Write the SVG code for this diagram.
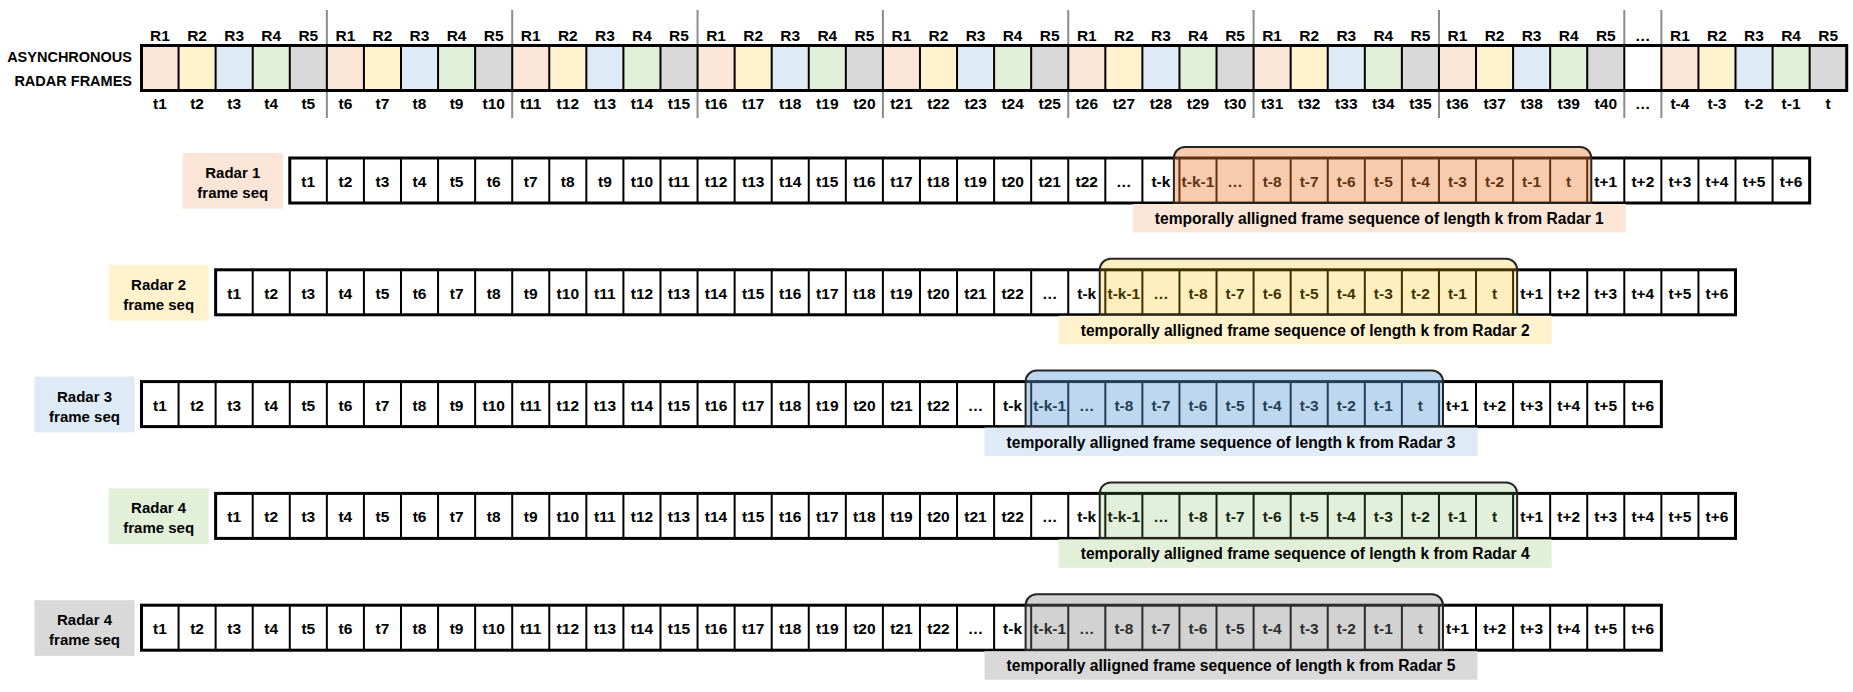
<svg xmlns="http://www.w3.org/2000/svg" xmlns:xlink="http://www.w3.org/1999/xlink" width="1853" height="692" viewBox="0 0 1853 692">
<style>
text{font-family:"Liberation Sans",Arial,sans-serif;font-weight:bold;fill:#000;text-anchor:middle}
.t{font-size:15.5px}
.lbl{font-size:15px}
.cap{font-size:15.6px}
.head{font-size:14.5px;text-anchor:end}
.box{fill:#fff;stroke:#000;stroke-width:3}
.div{fill:none;stroke:#000;stroke-width:2}
.sep{stroke:#8C8C8C;stroke-width:2}
.c1{fill:#FBE5D6}.c2{fill:#FFF2CC}.c3{fill:#DEEBF7}.c4{fill:#E2F0D9}.c5{fill:#D9D9D9}
.hl{stroke:#262626;stroke-width:2}
</style>
<defs>
<g id="grp5">
<rect class="c1" x="0" y="0" width="37.07" height="45"/>
<rect class="c2" x="37.07" y="0" width="37.07" height="45"/>
<rect class="c3" x="74.14" y="0" width="37.07" height="45"/>
<rect class="c4" x="111.21" y="0" width="37.07" height="45"/>
<rect class="c5" x="148.28" y="0" width="37.07" height="45"/>
</g>
<path id="div40" d="M37.07,0V45M74.14,0V45M111.21,0V45M148.28,0V45M185.35,0V45M222.42,0V45M259.49,0V45M296.56,0V45M333.63,0V45M370.7,0V45M407.77,0V45M444.84,0V45M481.91,0V45M518.98,0V45M556.05,0V45M593.12,0V45M630.19,0V45M667.26,0V45M704.33,0V45M741.4,0V45M778.47,0V45M815.54,0V45M852.61,0V45M889.68,0V45M926.75,0V45M963.82,0V45M1000.89,0V45M1037.96,0V45M1075.03,0V45M1112.1,0V45M1149.17,0V45M1186.24,0V45M1223.31,0V45M1260.38,0V45M1297.45,0V45M1334.52,0V45M1371.59,0V45M1408.66,0V45M1445.73,0V45M1482.8,0V45"/>
<g id="rowgrid">
<rect class="box" x="0" y="0" width="1519.87" height="45"/>
<use xlink:href="#div40" class="div"/>
</g>
<path id="hlshape" d="M884.1,45V0A11,11 0 0 1 895.1,-11H1290.5A11,11 0 0 1 1301.5,0V45Z"/>
</defs>

<g id="async-frames">
<g id="separators">
<line class="sep" x1="326.85" y1="10" x2="326.85" y2="118"/>
<line class="sep" x1="512.2" y1="10" x2="512.2" y2="118"/>
<line class="sep" x1="697.55" y1="10" x2="697.55" y2="118"/>
<line class="sep" x1="882.9" y1="10" x2="882.9" y2="118"/>
<line class="sep" x1="1068.25" y1="10" x2="1068.25" y2="118"/>
<line class="sep" x1="1253.6" y1="10" x2="1253.6" y2="118"/>
<line class="sep" x1="1438.95" y1="10" x2="1438.95" y2="118"/>
<line class="sep" x1="1624.3" y1="10" x2="1624.3" y2="118"/>
<line class="sep" x1="1661.37" y1="10" x2="1661.37" y2="118"/>
</g>
<text class="head" x="132" y="62">ASYNCHRONOUS</text>
<text class="head" x="132" y="85.5">RADAR FRAMES</text>
<g transform="translate(141.5,45.5)">
<rect x="0" y="0" width="1705.22" height="45" fill="#fff"/>
<use xlink:href="#grp5" x="0"/>
<use xlink:href="#grp5" x="185.35"/>
<use xlink:href="#grp5" x="370.7"/>
<use xlink:href="#grp5" x="556.05"/>
<use xlink:href="#grp5" x="741.4"/>
<use xlink:href="#grp5" x="926.75"/>
<use xlink:href="#grp5" x="1112.1"/>
<use xlink:href="#grp5" x="1297.45"/>
<use xlink:href="#grp5" x="1519.87"/>
<rect class="box" x="0" y="0" width="1705.22" height="45" style="fill:none"/>
<use xlink:href="#div40" class="div"/>
<path class="div" d="M1519.87,0V45M1556.94,0V45M1594.01,0V45M1631.08,0V45M1668.15,0V45"/>
<g class="t" transform="translate(0,-5)">
<text x="18.5">R1</text><text x="55.6">R2</text><text x="92.7">R3</text><text x="129.7">R4</text><text x="166.8">R5</text>
<text x="203.9">R1</text><text x="241">R2</text><text x="278">R3</text><text x="315.1">R4</text><text x="352.2">R5</text>
<text x="389.2">R1</text><text x="426.3">R2</text><text x="463.4">R3</text><text x="500.4">R4</text><text x="537.5">R5</text>
<text x="574.6">R1</text><text x="611.7">R2</text><text x="648.7">R3</text><text x="685.8">R4</text><text x="722.9">R5</text>
<text x="759.9">R1</text><text x="797">R2</text><text x="834.1">R3</text><text x="871.1">R4</text><text x="908.2">R5</text>
<text x="945.3">R1</text><text x="982.4">R2</text><text x="1019.4">R3</text><text x="1056.5">R4</text><text x="1093.6">R5</text>
<text x="1130.6">R1</text><text x="1167.7">R2</text><text x="1204.8">R3</text><text x="1241.8">R4</text><text x="1278.9">R5</text>
<text x="1316">R1</text><text x="1353.1">R2</text><text x="1390.1">R3</text><text x="1427.2">R4</text><text x="1464.3">R5</text>
<text x="1501.3">…</text>
<text x="1538.4">R1</text><text x="1575.5">R2</text><text x="1612.5">R3</text><text x="1649.6">R4</text><text x="1686.7">R5</text>
</g>
<g class="t" transform="translate(0,63)">
<text x="18.5">t1</text><text x="55.6">t2</text><text x="92.7">t3</text><text x="129.7">t4</text><text x="166.8">t5</text>
<text x="203.9">t6</text><text x="241">t7</text><text x="278">t8</text><text x="315.1">t9</text><text x="352.2">t10</text>
<text x="389.2">t11</text><text x="426.3">t12</text><text x="463.4">t13</text><text x="500.4">t14</text><text x="537.5">t15</text>
<text x="574.6">t16</text><text x="611.7">t17</text><text x="648.7">t18</text><text x="685.8">t19</text><text x="722.9">t20</text>
<text x="759.9">t21</text><text x="797">t22</text><text x="834.1">t23</text><text x="871.1">t24</text><text x="908.2">t25</text>
<text x="945.3">t26</text><text x="982.4">t27</text><text x="1019.4">t28</text><text x="1056.5">t29</text><text x="1093.6">t30</text>
<text x="1130.6">t31</text><text x="1167.7">t32</text><text x="1204.8">t33</text><text x="1241.8">t34</text><text x="1278.9">t35</text>
<text x="1316">t36</text><text x="1353.1">t37</text><text x="1390.1">t38</text><text x="1427.2">t39</text><text x="1464.3">t40</text>
<text x="1501.3">…</text>
<text x="1538.4">t-4</text><text x="1575.5">t-3</text><text x="1612.5">t-2</text><text x="1649.6">t-1</text><text x="1686.7">t</text>
</g>
</g>
</g>

<g id="connectors"/>

<g id="radar1" transform="translate(289.78,158)">
<rect class="c1" x="-107" y="-5" width="100" height="55.7"/>
<text class="lbl" x="-57" y="20">Radar 1</text><text class="lbl" x="-57" y="40">frame seq</text>
<use xlink:href="#rowgrid"/>
<g class="t" transform="translate(0,29)">
<text x="18.5">t1</text><text x="55.6">t2</text><text x="92.7">t3</text><text x="129.7">t4</text><text x="166.8">t5</text><text x="203.9">t6</text><text x="241">t7</text><text x="278">t8</text><text x="315.1">t9</text><text x="352.2">t10</text><text x="389.2">t11</text><text x="426.3">t12</text><text x="463.4">t13</text><text x="500.4">t14</text><text x="537.5">t15</text><text x="574.6">t16</text><text x="611.7">t17</text><text x="648.7">t18</text><text x="685.8">t19</text><text x="722.9">t20</text><text x="759.9">t21</text><text x="797">t22</text><text x="834.1">…</text><text x="871.1">t-k</text><text x="908.2">t-k-1</text><text x="945.3">…</text><text x="982.4">t-8</text><text x="1019.4">t-7</text><text x="1056.5">t-6</text><text x="1093.6">t-5</text><text x="1130.6">t-4</text><text x="1167.7">t-3</text><text x="1204.8">t-2</text><text x="1241.8">t-1</text><text x="1278.9">t</text><text x="1316">t+1</text><text x="1353.1">t+2</text><text x="1390.1">t+3</text><text x="1427.2">t+4</text><text x="1464.3">t+5</text><text x="1501.3">t+6</text>
</g>
<use xlink:href="#hlshape" class="hl" fill="#ED7D31" fill-opacity="0.4"/>
<rect class="c1" x="843" y="46" width="493" height="28.5"/>
<text class="cap" x="1089.5" y="66">temporally alligned frame sequence of length k from Radar 1</text>
</g>

<g id="radar2" transform="translate(215.64,269.8)">
<rect class="c2" x="-107" y="-5" width="100" height="55.7"/>
<text class="lbl" x="-57" y="20">Radar 2</text><text class="lbl" x="-57" y="40">frame seq</text>
<use xlink:href="#rowgrid"/>
<g class="t" transform="translate(0,29)">
<text x="18.5">t1</text><text x="55.6">t2</text><text x="92.7">t3</text><text x="129.7">t4</text><text x="166.8">t5</text><text x="203.9">t6</text><text x="241">t7</text><text x="278">t8</text><text x="315.1">t9</text><text x="352.2">t10</text><text x="389.2">t11</text><text x="426.3">t12</text><text x="463.4">t13</text><text x="500.4">t14</text><text x="537.5">t15</text><text x="574.6">t16</text><text x="611.7">t17</text><text x="648.7">t18</text><text x="685.8">t19</text><text x="722.9">t20</text><text x="759.9">t21</text><text x="797">t22</text><text x="834.1">…</text><text x="871.1">t-k</text><text x="908.2">t-k-1</text><text x="945.3">…</text><text x="982.4">t-8</text><text x="1019.4">t-7</text><text x="1056.5">t-6</text><text x="1093.6">t-5</text><text x="1130.6">t-4</text><text x="1167.7">t-3</text><text x="1204.8">t-2</text><text x="1241.8">t-1</text><text x="1278.9">t</text><text x="1316">t+1</text><text x="1353.1">t+2</text><text x="1390.1">t+3</text><text x="1427.2">t+4</text><text x="1464.3">t+5</text><text x="1501.3">t+6</text>
</g>
<use xlink:href="#hlshape" class="hl" fill="#FFC000" fill-opacity="0.25"/>
<rect class="c2" x="843" y="46" width="493" height="28.5"/>
<text class="cap" x="1089.5" y="66">temporally alligned frame sequence of length k from Radar 2</text>
</g>

<g id="radar3" transform="translate(141.5,381.6)">
<rect class="c3" x="-107" y="-5" width="100" height="55.7"/>
<text class="lbl" x="-57" y="20">Radar 3</text><text class="lbl" x="-57" y="40">frame seq</text>
<use xlink:href="#rowgrid"/>
<g class="t" transform="translate(0,29)">
<text x="18.5">t1</text><text x="55.6">t2</text><text x="92.7">t3</text><text x="129.7">t4</text><text x="166.8">t5</text><text x="203.9">t6</text><text x="241">t7</text><text x="278">t8</text><text x="315.1">t9</text><text x="352.2">t10</text><text x="389.2">t11</text><text x="426.3">t12</text><text x="463.4">t13</text><text x="500.4">t14</text><text x="537.5">t15</text><text x="574.6">t16</text><text x="611.7">t17</text><text x="648.7">t18</text><text x="685.8">t19</text><text x="722.9">t20</text><text x="759.9">t21</text><text x="797">t22</text><text x="834.1">…</text><text x="871.1">t-k</text><text x="908.2">t-k-1</text><text x="945.3">…</text><text x="982.4">t-8</text><text x="1019.4">t-7</text><text x="1056.5">t-6</text><text x="1093.6">t-5</text><text x="1130.6">t-4</text><text x="1167.7">t-3</text><text x="1204.8">t-2</text><text x="1241.8">t-1</text><text x="1278.9">t</text><text x="1316">t+1</text><text x="1353.1">t+2</text><text x="1390.1">t+3</text><text x="1427.2">t+4</text><text x="1464.3">t+5</text><text x="1501.3">t+6</text>
</g>
<use xlink:href="#hlshape" class="hl" fill="#5B9BD5" fill-opacity="0.4"/>
<rect class="c3" x="843" y="46" width="493" height="28.5"/>
<text class="cap" x="1089.5" y="66">temporally alligned frame sequence of length k from Radar 3</text>
</g>

<g id="radar4" transform="translate(215.64,493.4)">
<rect class="c4" x="-107" y="-5" width="100" height="55.7"/>
<text class="lbl" x="-57" y="20">Radar 4</text><text class="lbl" x="-57" y="40">frame seq</text>
<use xlink:href="#rowgrid"/>
<g class="t" transform="translate(0,29)">
<text x="18.5">t1</text><text x="55.6">t2</text><text x="92.7">t3</text><text x="129.7">t4</text><text x="166.8">t5</text><text x="203.9">t6</text><text x="241">t7</text><text x="278">t8</text><text x="315.1">t9</text><text x="352.2">t10</text><text x="389.2">t11</text><text x="426.3">t12</text><text x="463.4">t13</text><text x="500.4">t14</text><text x="537.5">t15</text><text x="574.6">t16</text><text x="611.7">t17</text><text x="648.7">t18</text><text x="685.8">t19</text><text x="722.9">t20</text><text x="759.9">t21</text><text x="797">t22</text><text x="834.1">…</text><text x="871.1">t-k</text><text x="908.2">t-k-1</text><text x="945.3">…</text><text x="982.4">t-8</text><text x="1019.4">t-7</text><text x="1056.5">t-6</text><text x="1093.6">t-5</text><text x="1130.6">t-4</text><text x="1167.7">t-3</text><text x="1204.8">t-2</text><text x="1241.8">t-1</text><text x="1278.9">t</text><text x="1316">t+1</text><text x="1353.1">t+2</text><text x="1390.1">t+3</text><text x="1427.2">t+4</text><text x="1464.3">t+5</text><text x="1501.3">t+6</text>
</g>
<use xlink:href="#hlshape" class="hl" fill="#70AD47" fill-opacity="0.2"/>
<rect class="c4" x="843" y="46" width="493" height="28.5"/>
<text class="cap" x="1089.5" y="66">temporally alligned frame sequence of length k from Radar 4</text>
</g>

<g id="radar5" transform="translate(141.5,605.2)">
<rect class="c5" x="-107" y="-5" width="100" height="55.7"/>
<text class="lbl" x="-57" y="20">Radar 4</text><text class="lbl" x="-57" y="40">frame seq</text>
<use xlink:href="#rowgrid"/>
<g class="t" transform="translate(0,29)">
<text x="18.5">t1</text><text x="55.6">t2</text><text x="92.7">t3</text><text x="129.7">t4</text><text x="166.8">t5</text><text x="203.9">t6</text><text x="241">t7</text><text x="278">t8</text><text x="315.1">t9</text><text x="352.2">t10</text><text x="389.2">t11</text><text x="426.3">t12</text><text x="463.4">t13</text><text x="500.4">t14</text><text x="537.5">t15</text><text x="574.6">t16</text><text x="611.7">t17</text><text x="648.7">t18</text><text x="685.8">t19</text><text x="722.9">t20</text><text x="759.9">t21</text><text x="797">t22</text><text x="834.1">…</text><text x="871.1">t-k</text><text x="908.2">t-k-1</text><text x="945.3">…</text><text x="982.4">t-8</text><text x="1019.4">t-7</text><text x="1056.5">t-6</text><text x="1093.6">t-5</text><text x="1130.6">t-4</text><text x="1167.7">t-3</text><text x="1204.8">t-2</text><text x="1241.8">t-1</text><text x="1278.9">t</text><text x="1316">t+1</text><text x="1353.1">t+2</text><text x="1390.1">t+3</text><text x="1427.2">t+4</text><text x="1464.3">t+5</text><text x="1501.3">t+6</text>
</g>
<use xlink:href="#hlshape" class="hl" fill="#7F7F7F" fill-opacity="0.35"/>
<rect class="c5" x="843" y="46" width="493" height="28.5"/>
<text class="cap" x="1089.5" y="66">temporally alligned frame sequence of length k from Radar 5</text>
</g>
</svg>
